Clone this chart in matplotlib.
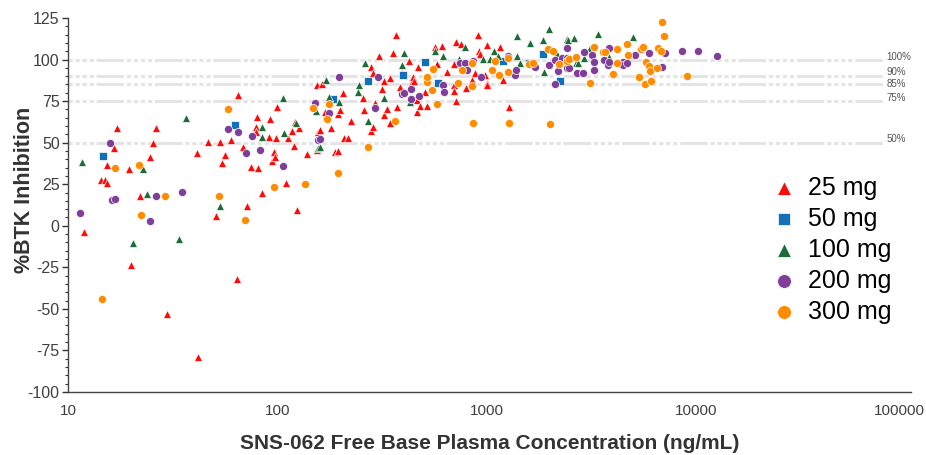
import matplotlib
matplotlib.use("Agg")
import matplotlib.pyplot as plt
from matplotlib.ticker import FixedLocator, NullLocator, MultipleLocator
from matplotlib.transforms import ScaledTranslation

plt.rcParams["font.family"] = ["Liberation Sans", "DejaVu Sans"]
plt.rcParams["axes.unicode_minus"] = False

# concentration (ng/mL), %BTK inhibition
conc_25 = [11.9, 14.4, 15.0, 15.3, 15.4, 16.6, 17.2, 19.6, 20, 22.1, 24.7, 25.5, 26.4, 29.8,
           41.4, 42, 46.7, 51.1, 53.4, 54.6, 56.5, 60.3, 64.5, 65, 68.6, 72, 75, 79, 79, 80,
           81, 85, 91.5, 92.6, 94.5, 96, 97.8, 99, 100, 110, 112, 118, 120, 122, 124, 127,
           139, 155, 155, 157, 160, 164, 169, 181, 188, 195, 196, 200, 207, 209, 218, 226,
           258, 261, 282, 282, 288, 288, 294, 308, 315, 324, 324, 336, 345, 345, 359, 371,
           375, 385, 396, 428, 441, 445, 450, 463, 467, 472, 482, 506, 517, 568, 581, 615,
           650, 697, 697, 697, 711, 711, 759, 800, 848, 885, 906, 924, 932, 983, 1000, 1010,
           1000, 1166, 1194, 1286]
inh_25 = [-4, 27.5, 27.5, 25.7, 36.5, 47, 59, 34.1, -23.6, 17.9, 41.4, 50, 59, -53,
          44, -79, 50.4, 5.9, 50.4, 37.8, 42.6, 51.6, -32, 78.7, 47.4, 11.9, 35.4, 59.4, 56.4, 65.4,
          34.7, 19.7, 53.4, 64.2, 39, 44.4, 41.4, 52.8, 71.5, 25.7, 52.8, 57, 48, 62.4, 9.5, 58.8,
          43.2, 84.7, 45.6, 56.4, 57.6, 85.3, 68.4, 58.8, 44.4, 45, 67.2, 69.6, 79.9, 52.8, 52.8, 63,
          76.9, 69.6, 95.5, 57, 91.9, 59.4, 73.9, 102.1, 82.3, 87.1, 66.6, 70.2, 88.9, 61.8, 104, 114.8,
          71.4, 83.5, 91.9, 99.1, 86.5, 89.5, 87.1, 68.4, 75.7, 95.5, 72, 80.5, 72, 107.5, 97.3, 108.2,
          92.5, 97.3, 84.7, 81.1, 110.6, 75.1, 109.4, 82.9, 87.7, 91.9, 114.8, 105.1, 103.3, 90.7, 108.8, 85.9,
          84.7, 107.5, 87.7, 71.4]

conc_50 = [14.7, 63, 184, 272, 401, 511, 589, 1194, 1589, 1853, 2257]
inh_50 = [42, 60.6, 76.3, 87.1, 90.7, 98.5, 85.9, 99.1, 97.9, 103.3, 87.1]

conc_100 = [11.7, 20.4, 22.8, 23.8, 34, 36.7, 53.4, 85, 85, 107, 108, 123, 154, 157, 160,
            171, 177, 198, 244, 247, 264, 272, 324, 393, 405, 432, 568, 621, 742, 793, 957,
            1040, 1091, 1140, 1406, 1406, 1439, 1605, 1870, 1890, 1982, 2170, 2434, 2460,
            2620, 2670, 2730, 2910, 3110, 3397, 3870, 5000]
inh_100 = [38.4, -10.4, 34.1, 19, -8, 65, 11.9, 59.4, 53.4, 76.9, 55.8, 61.8, 69, 46.8, 47.4,
           87.7, 77.5, 74.5, 80.5, 84.7, 97.9, 63, 76.9, 96.7, 104, 74.5, 105.1, 102.1, 100.3, 107.5, 100.3,
           100.3, 105.1, 102.1, 114.2, 102.1, 97.9, 110, 111.8, 92.5, 118.4, 103.3, 112.4, 111.8,
           113, 98, 98, 100.9, 107, 115.4, 101.5, 113.6]

conc_200 = [11.4, 15.9, 16.3, 16.8, 24.7, 26.4, 35.1, 58, 65, 71, 76, 83, 106, 152, 157, 160,
            177, 198, 294, 302, 393, 405, 437, 437, 477, 621, 627, 749, 793, 810, 864, 940,
            1260, 1375, 1390, 1705, 1982, 2120, 2120, 2190, 2290, 2430, 2430, 2430, 2467, 2700,
            2880, 2910, 3190, 3260, 3260, 3630, 3790, 3830, 3870, 4500, 4500, 4700, 5110, 5960,
            6860, 7160, 8560, 10300, 12600]
inh_200 = [7.7, 50, 15.5, 16.1, 2.9, 17.9, 20.3, 58, 56.5, 43.8, 54, 45.6, 36, 73.9, 51.6, 52.2,
           67.8, 89.5, 70.8, 89.5, 79.3, 79.9, 82.3, 76.3, 78, 84.7, 80.5, 98, 98, 93.7, 99.1, 89.5,
           102.1, 90.7, 93.7, 95.5, 96.7, 99.7, 85.3, 93.1, 100.9, 107, 100.9, 95, 95, 91.9,
           91.9, 104.5, 102.7, 98.5, 93.7, 99.7, 96.7, 98.5, 107, 98.5, 96.7, 98, 102.7, 104,
           95.5, 104, 105.1, 105.1, 102.1]

conc_300 = [14.5, 16.8, 21.9, 22.3, 29.1, 52.8, 58, 70, 96, 136, 149, 173, 177, 196, 270, 366,
            517, 522, 547, 555, 581, 727, 766, 857, 857, 864, 1060, 1102, 1150, 1260, 1268, 1286,
            1590, 1670, 1960, 2022, 2080, 2212, 2430, 2467, 2670, 3140, 3260, 3590, 3700, 4030,
            4210, 4210, 4700, 4750, 5330, 5447, 5580, 5730, 5780, 5960, 6030, 6120, 6500, 6570,
            6790, 6870, 7070, 9040]
inh_300 = [-44, 34.7, 36.5, 6.5, 17.9, 17.9, 70, 3.5, 23.3, 25, 70.8, 64.2, 73.3, 31.7, 47.4, 63,
           86.5, 89.5, 81.7, 94.3, 73.3, 85.9, 93.7, 98, 84.1, 61.8, 93.7, 99.1, 90.7, 92.5, 101, 61.8,
           97.3, 98, 106.3, 61.2, 105.1, 97.3, 99.1, 100.3, 101.5, 85.9, 107.5, 104.5, 104.5, 91.3,
           106.3, 98, 109.4, 102.7, 89.5, 106.3, 107.5, 85.3, 98.5, 96.1, 93.1, 87.1, 95, 107,
           105.1, 122.6, 114.2, 90.1]

ref_levels = [100, 90, 85, 75, 50]
ref_labels = ["100%", "90%", "85%", "75%", "50%"]
ref_label_y = [101.5, 92.5, 85.3, 77, 52]

x_ticks = [10, 100, 1000, 10000, 100000]
x_ticklabels = ["10", "100", "1000", "10000", "100000"]

fig = plt.figure(figsize=(9.26, 4.55), dpi=100)
ax = fig.add_axes([0.0734, 0.1385, 0.9106, 0.822])

# reference lines
for lvl in ref_levels:
    ax.plot([10, 79000], [lvl, lvl], color="#e4e4e4", lw=2.2,
            linestyle=(0, (1.4, 0.9, 1.4, 0.9, 1.4, 0.9, 1.4, 0.9, 9, 0.9)),
            solid_capstyle="butt", zorder=1)
for lab, yy in zip(ref_labels, ref_label_y):
    ax.text(81500, yy, lab, fontsize=7, color="#555555", va="center", ha="left")

series = [
    (conc_25, inh_25, "^", "#ff0a0a", 34, "25 mg"),
    (conc_50, inh_50, "s", "#1170b8", 26, "50 mg"),
    (conc_100, inh_100, "^", "#1d6b3a", 34, "100 mg"),
    (conc_200, inh_200, "o", "#7f3f98", 34, "200 mg"),
    (conc_300, inh_300, "o", "#ff8c00", 34, "300 mg"),
]
for xs, ys, mk, col, sz, lab in series:
    ax.scatter(xs, ys, marker=mk, s=sz, color=col, edgecolors="white",
               linewidths=0.5, label=lab, zorder=3)

ax.set_xscale("log")
ax.set_xlim(10, 107000)
ax.set_ylim(-100, 125)
ax.xaxis.set_major_locator(FixedLocator(x_ticks))
ax.set_xticklabels(x_ticklabels)
ax.xaxis.set_minor_locator(NullLocator())
ax.yaxis.set_major_locator(MultipleLocator(25))
ax.yaxis.set_minor_locator(MultipleLocator(5))

ax.tick_params(axis="x", length=0, pad=9, labelsize=11, labelcolor="#404040")
ax.tick_params(axis="y", which="major", length=4, width=1, color="#333333",
               labelsize=11.5, labelcolor="#404040", pad=2)
ax.tick_params(axis="y", which="minor", length=2, width=0.8, color="#333333")

# last x label pulled inward so it stays on the canvas
last = ax.get_xticklabels()[-1]
last.set_horizontalalignment("right")
last.set_transform(last.get_transform() + ScaledTranslation(0.2, 0, fig.dpi_scale_trans))

for side in ["top", "right"]:
    ax.spines[side].set_visible(False)
for side in ["left", "bottom"]:
    ax.spines[side].set_color("#444444")
    ax.spines[side].set_linewidth(1.0)

ax.set_xlabel("SNS-062 Free Base Plasma Concentration (ng/mL)", fontsize=15,
              fontweight="bold", color="#333333", labelpad=11)
ax.set_ylabel("%BTK Inhibition", fontsize=15.5, fontweight="bold", color="#333333")
ax.yaxis.set_label_coords(-0.039, 0.54)

leg = ax.legend(loc="upper left", bbox_to_anchor=(0.82, 0.605), frameon=False,
                fontsize=18, markerscale=1.7, handletextpad=0.35,
                labelspacing=0.28, borderaxespad=0, handlelength=1.2)

fig.savefig("out.png", dpi=100)
